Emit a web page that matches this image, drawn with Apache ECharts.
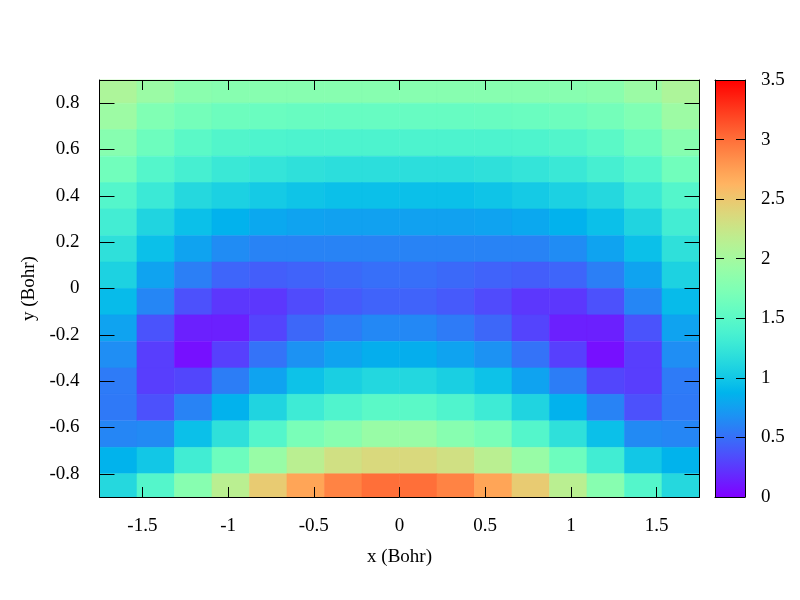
<!DOCTYPE html>
<html>
<head>
<meta charset="utf-8">
<script src="https://cdn.jsdelivr.net/npm/echarts@6/dist/echarts.min.js"></script>
<style>
  html, body { margin: 0; padding: 0; background: #fff; }
  #chart { width: 800px; height: 600px; }
</style>
</head>
<body>
<div id="chart"></div>
<script>
// cell centres (Bohr)
var xCenters = [-1.6406, -1.4219, -1.2031, -0.9844, -0.7656, -0.5469, -0.3281, -0.1094,
                0.1094, 0.3281, 0.5469, 0.7656, 0.9844, 1.2031, 1.4219, 1.6406];
var yCenters = [0.857, 0.743, 0.629, 0.514, 0.4, 0.286, 0.171, 0.057,
                -0.057, -0.171, -0.286, -0.4, -0.514, -0.629, -0.743, -0.857];

// one row per yCenters entry, top to bottom
var zRows = [
  [2.06, 1.94, 1.82, 1.8, 1.8, 1.8, 1.8, 1.8, 1.8, 1.8, 1.8, 1.8, 1.8, 1.82, 1.94, 2.06],
  [1.95, 1.75, 1.67, 1.62, 1.6, 1.59, 1.58, 1.58, 1.58, 1.58, 1.59, 1.6, 1.62, 1.67, 1.75, 1.95],
  [1.8, 1.62, 1.5, 1.44, 1.41, 1.4, 1.4, 1.4, 1.4, 1.4, 1.4, 1.41, 1.44, 1.5, 1.62, 1.8],
  [1.65, 1.45, 1.35, 1.27, 1.23, 1.2, 1.18, 1.18, 1.18, 1.18, 1.2, 1.23, 1.27, 1.35, 1.45, 1.65],
  [1.45, 1.28, 1.13, 1.07, 1.02, 0.98, 0.95, 0.95, 0.95, 0.95, 0.98, 1.02, 1.07, 1.13, 1.28, 1.45],
  [1.33, 1.1, 0.95, 0.86, 0.8, 0.77, 0.76, 0.76, 0.76, 0.76, 0.77, 0.8, 0.86, 0.95, 1.1, 1.33],
  [1.2, 0.95, 0.77, 0.65, 0.6, 0.6, 0.6, 0.6, 0.6, 0.6, 0.6, 0.6, 0.65, 0.77, 0.95, 1.2],
  [1.08, 0.77, 0.58, 0.45, 0.42, 0.44, 0.47, 0.5, 0.5, 0.47, 0.44, 0.42, 0.45, 0.58, 0.77, 1.08],
  [0.92, 0.62, 0.36, 0.24, 0.24, 0.33, 0.4, 0.44, 0.44, 0.4, 0.33, 0.24, 0.24, 0.36, 0.62, 0.92],
  [0.77, 0.37, 0.14, 0.14, 0.3, 0.46, 0.56, 0.63, 0.63, 0.56, 0.46, 0.3, 0.14, 0.14, 0.37, 0.77],
  [0.66, 0.27, 0.07, 0.28, 0.52, 0.68, 0.77, 0.84, 0.84, 0.77, 0.68, 0.52, 0.28, 0.07, 0.27, 0.66],
  [0.56, 0.27, 0.31, 0.57, 0.77, 0.96, 1.06, 1.12, 1.12, 1.06, 0.96, 0.77, 0.57, 0.31, 0.27, 0.56],
  [0.55, 0.36, 0.6, 0.86, 1.1, 1.3, 1.42, 1.5, 1.5, 1.42, 1.3, 1.1, 0.86, 0.6, 0.36, 0.55],
  [0.62, 0.64, 0.95, 1.2, 1.45, 1.7, 1.8, 1.92, 1.92, 1.8, 1.7, 1.45, 1.2, 0.95, 0.64, 0.62],
  [0.87, 1.0, 1.32, 1.62, 1.92, 2.15, 2.3, 2.36, 2.36, 2.3, 2.15, 1.92, 1.62, 1.32, 1.0, 0.87],
  [1.13, 1.45, 1.8, 2.15, 2.47, 2.72, 2.9, 3.0, 3.0, 2.9, 2.72, 2.47, 2.15, 1.8, 1.45, 1.13]
];

var xTicks = [-1.5, -1, -0.5, 0, 0.5, 1, 1.5];
var yTicks = [-0.8, -0.6, -0.4, -0.2, 0, 0.2, 0.4, 0.6, 0.8];
var zMin = 0, zMax = 3.5;

var cellW = 0.21875, cellH = 0.8 / 7;
var FONT = 'Liberation Serif';
var FS = 19;

// gnuplot "rgbformulae 33,13,10" rainbow
function rainbow(t) {
  var r = Math.min(1, Math.abs(2 * t - 0.5));
  var g = Math.max(0, Math.sin(Math.PI * t));
  var b = Math.max(0, Math.cos(Math.PI * t / 2));
  return 'rgb(' + Math.round(r * 255) + ',' + Math.round(g * 255) + ',' + Math.round(b * 255) + ')';
}
var paletteColors = [], paletteStops = [];
for (var k = 0; k <= 40; k++) {
  paletteColors.push(rainbow(k / 40));
  paletteStops.push({ offset: k / 40, color: rainbow(k / 40) });
}

var cells = [];
zRows.forEach(function (row, j) {
  row.forEach(function (v, i) {
    cells.push([xCenters[i], yCenters[j], v]);
  });
});

function renderCell(params, api) {
  var x = api.value(0), y = api.value(1);
  var p0 = api.coord([x - cellW / 2, y + cellH / 2]);
  var p1 = api.coord([x + cellW / 2, y - cellH / 2]);
  var shape = echarts.graphic.clipRectByRect({
    x: p0[0], y: p0[1], width: p1[0] - p0[0], height: p1[1] - p0[1]
  }, params.coordSys);
  if (!shape) return;
  var c = api.visual('color');
  return { type: 'rect', shape: shape, style: { fill: c, stroke: c, lineWidth: 0.6 } };
}

function renderBar(params, api) {
  var p0 = api.coord([0, zMax]);
  var p1 = api.coord([1, zMin]);
  return {
    type: 'rect',
    shape: { x: p0[0], y: p0[1], width: p1[0] - p0[0], height: p1[1] - p0[1] },
    style: { fill: new echarts.graphic.LinearGradient(0, 1, 0, 0, paletteStops) }
  };
}

var black = { color: '#000', width: 1 };
var labelStyle = { fontFamily: FONT, fontSize: FS, color: '#000' };

var chart = echarts.init(document.getElementById('chart'), null, { renderer: 'canvas' });
chart.setOption({
  backgroundColor: '#fff',
  animation: false,
  textStyle: { fontFamily: FONT },
  grid: [
    { left: 99.5, top: 80, width: 600, height: 417 },
    { left: 715, top: 80, width: 30, height: 417 }
  ],
  visualMap: {
    show: false, type: 'continuous', min: zMin, max: zMax,
    dimension: 2, seriesIndex: 0, inRange: { color: paletteColors }
  },
  xAxis: [
    {
      type: 'value', gridIndex: 0, position: 'bottom', min: -1.75, max: 1.75, z: 10,
      axisLine: { show: true, onZero: false, lineStyle: black },
      axisTick: { show: true, inside: true, length: 10, customValues: xTicks, lineStyle: black },
      axisLabel: Object.assign({ customValues: xTicks, margin: 20 }, labelStyle),
      splitLine: { show: false },
      name: 'x (Bohr)', nameLocation: 'middle', nameGap: 51,
      nameTextStyle: labelStyle
    },
    {
      type: 'value', gridIndex: 0, position: 'top', min: -1.75, max: 1.75, z: 10,
      axisLine: { show: true, onZero: false, lineStyle: black },
      axisTick: { show: true, inside: true, length: 10, customValues: xTicks, lineStyle: black },
      axisLabel: { show: false }, splitLine: { show: false }
    },
    {
      type: 'value', gridIndex: 1, position: 'bottom', min: 0, max: 1, z: 10,
      axisLine: { show: true, onZero: false, lineStyle: black },
      axisTick: { show: false }, axisLabel: { show: false }, splitLine: { show: false }
    },
    {
      type: 'value', gridIndex: 1, position: 'top', min: 0, max: 1, z: 10,
      axisLine: { show: true, onZero: false, lineStyle: black },
      axisTick: { show: false }, axisLabel: { show: false }, splitLine: { show: false }
    }
  ],
  yAxis: [
    {
      type: 'value', gridIndex: 0, position: 'left', min: -0.9, max: 0.9, z: 10,
      axisLine: { show: true, onZero: false, lineStyle: black },
      axisTick: { show: true, inside: true, length: 15, customValues: yTicks, lineStyle: black },
      axisLabel: Object.assign({ customValues: yTicks, margin: 20 }, labelStyle),
      splitLine: { show: false },
      name: 'y (Bohr)', nameLocation: 'middle', nameGap: 56,
      nameTextStyle: labelStyle
    },
    {
      type: 'value', gridIndex: 0, position: 'right', min: -0.9, max: 0.9, z: 10,
      axisLine: { show: true, onZero: false, lineStyle: black },
      axisTick: { show: true, inside: true, length: 15, customValues: yTicks, lineStyle: black },
      axisLabel: { show: false }, splitLine: { show: false }
    },
    {
      type: 'value', gridIndex: 1, position: 'right', min: zMin, max: zMax, interval: 0.5, z: 10,
      axisLine: { show: true, onZero: false, lineStyle: black },
      axisTick: { show: true, inside: true, length: 9, lineStyle: black },
      axisLabel: Object.assign({ margin: 16 }, labelStyle),
      splitLine: { show: false }
    },
    {
      type: 'value', gridIndex: 1, position: 'left', min: zMin, max: zMax, interval: 0.5, z: 10,
      axisLine: { show: true, onZero: false, lineStyle: black },
      axisTick: { show: true, inside: true, length: 9, lineStyle: black },
      axisLabel: { show: false }, splitLine: { show: false }
    }
  ],
  series: [
    {
      type: 'custom', xAxisIndex: 0, yAxisIndex: 0,
      renderItem: renderCell, data: cells, silent: true
    },
    {
      type: 'custom', xAxisIndex: 2, yAxisIndex: 2,
      renderItem: renderBar, data: [[0, 0]], silent: true
    }
  ]
});
</script>
</body>
</html>
